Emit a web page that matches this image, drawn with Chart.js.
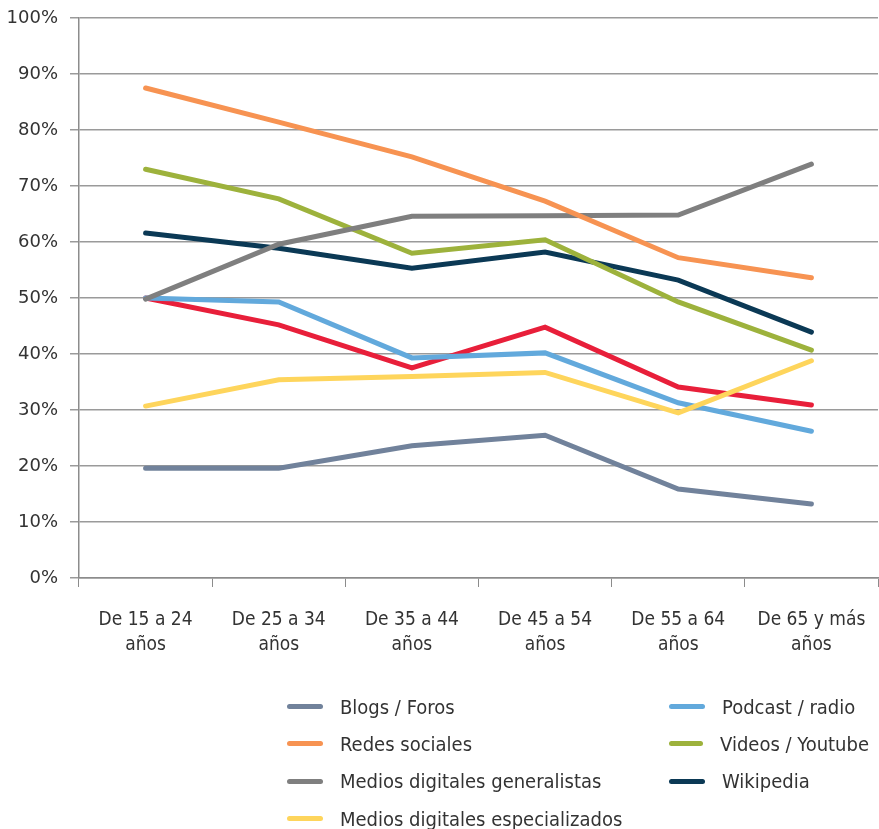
<!DOCTYPE html>
<html>
<head>
<meta charset="utf-8">
<script src="https://cdn.jsdelivr.net/npm/chart.js@4.4.0/dist/chart.umd.min.js"></script>
<style>
  body { margin: 0; background: #fff; }
  #wrap { position: relative; width: 879px; height: 829px; }
  #leyenda {
    position: absolute; left: 287px; top: 688px;
    display: grid; grid-template-columns: 382px 200px; grid-auto-flow: column;
    grid-template-rows: repeat(4, 37.3px);
    font-family: "Liberation Sans Narrow", "DejaVu Sans Condensed", sans-serif;
    font-size: 20px; color: #333;
  }
  #leyenda div { display: flex; align-items: center; white-space: nowrap; }
  #leyenda span.sw { display: inline-block; width: 36px; height: 5px; border-radius: 3px; margin-right: 17px; }
</style>
</head>
<body>
<div id="wrap">
  <canvas id="grafico" width="879" height="829"></canvas>
  <div id="leyenda"></div>
</div>
<script>
// categorias (eje x)
const edades = [
  ['De 15 a 24', 'años'], ['De 25 a 34', 'años'], ['De 35 a 44', 'años'],
  ['De 45 a 54', 'años'], ['De 55 a 64', 'años'], ['De 65 y más', 'años']
];

// valores (%)
const blogs       = [19.6, 19.6, 23.6, 25.5, 15.9, 13.2];
const redes       = [87.5, 81.4, 75.2, 67.3, 57.2, 53.6];
const generalistas = [49.8, 59.6, 64.6, 64.7, 64.8, 73.9];
const especializados = [30.7, 35.4, 36.0, 36.7, 29.5, 38.8];
const podcast     = [50.0, 49.3, 39.3, 40.2, 31.3, 26.2];
const videos      = [73.0, 67.7, 58.0, 60.4, 49.3, 40.7];
const wikipedia   = [61.6, 58.9, 55.3, 58.2, 53.2, 43.9];
const sinNombre   = [50.0, 45.2, 37.5, 44.8, 34.1, 30.9]; // linea roja sin leyenda

const series = [
  { label: 'Blogs / Foros', data: blogs, color: '#71829b' },
  { label: 'Redes sociales', data: redes, color: '#f79352' },
  { label: 'Medios digitales generalistas', data: generalistas, color: '#7f7f7f' },
  { label: 'Medios digitales especializados', data: especializados, color: '#fed55c' },
  { label: 'Podcast / radio', data: podcast, color: '#62a9dc' },
  { label: 'Videos / Youtube', data: videos, color: '#9db23c' },
  { label: 'Wikipedia', data: wikipedia, color: '#0b3955' },
  { label: '', data: sinNombre, color: '#e81f3a' }
];

const ctx = document.getElementById('grafico').getContext('2d');
const grafico = new Chart(ctx, {
  type: 'line',
  data: {
    labels: edades,
    datasets: series.map(s => ({
      label: s.label,
      data: s.data,
      borderColor: s.color,
      backgroundColor: s.color,
      borderWidth: 5,
      borderCapStyle: 'round',
      borderJoinStyle: 'miter',
      pointRadius: 0,
      tension: 0
    }))
  },
  options: {
    responsive: false,
    animation: false,
    layout: { padding: { top: 18, right: 1, left: 0, bottom: 0 } },
    plugins: { legend: { display: false }, tooltip: { enabled: false } },
    scales: {
      x: {
        offset: true,
        grid: { offset: true, drawOnChartArea: false, drawTicks: true, tickLength: 9, color: '#8c8c8c' },
        border: { color: '#8c8c8c', width: 1.5 },
        ticks: {
          maxRotation: 0, autoSkip: false, padding: 20, color: '#333',
          font: { family: '"Liberation Sans Narrow", "DejaVu Sans Condensed", sans-serif', size: 19, lineHeight: 1.35 }
        },
        afterFit: s => { s.height = 829 - 578; s.paddingLeft = 0; s.paddingRight = 0; }
      },
      y: {
        min: 0, max: 100,
        grid: { color: '#9a9a9a', lineWidth: 1.5, tickLength: 9 },
        border: { color: '#8c8c8c', width: 1.5 },
        ticks: {
          stepSize: 10, padding: 12, color: '#333',
          font: { family: '"DejaVu Sans", sans-serif', size: 18 },
          callback: v => v + '%'
        },
        afterFit: s => { s.width = 79; s.paddingTop = 0; s.paddingBottom = 0; }
      }
    }
  }
});

// leyenda en dos columnas (la serie roja no aparece)
const leyenda = document.getElementById('leyenda');
series.filter(s => s.label).forEach(s => {
  const item = document.createElement('div');
  item.innerHTML = '<span class="sw" style="background:' + s.color + '"></span>' + s.label;
  leyenda.appendChild(item);
});
</script>
</body>
</html>
